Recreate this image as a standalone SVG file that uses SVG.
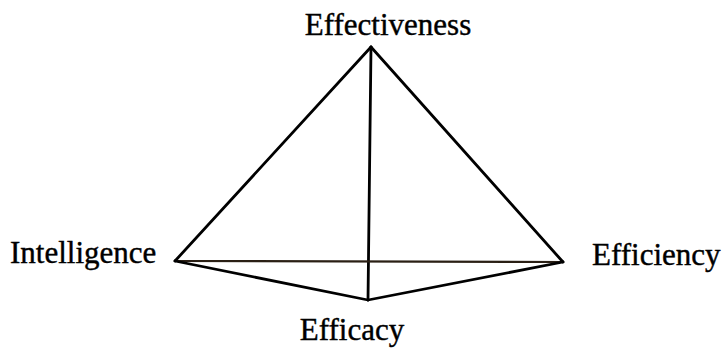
<svg xmlns="http://www.w3.org/2000/svg" width="725" height="354" viewBox="0 0 725 354">
<style>
.lbl{font-family:"Liberation Serif","Times New Roman",serif;font-size:31px;fill:#000;stroke:#000;stroke-width:0.4}
.edge{stroke:#000;stroke-width:2.8;fill:none;stroke-linecap:round;stroke-linejoin:round}
.base{stroke:#2a1f14;stroke-width:2.2}
</style>
<rect width="725" height="354" fill="#fff"/>
<g id="connectors">
<line class="edge" x1="371" y1="47" x2="175" y2="261"/>
<line class="edge" x1="371" y1="47" x2="563" y2="262"/>
<line class="edge" x1="371" y1="47" x2="368" y2="300"/>
<line class="edge base" x1="175" y1="261" x2="563" y2="262"/>
<line class="edge" x1="175" y1="261" x2="368" y2="300"/>
<line class="edge" x1="563" y1="262" x2="368" y2="300"/>
</g>
<g id="effectiveness"><text class="lbl" x="388" y="35" text-anchor="middle">Effectiveness</text></g>
<g id="intelligence"><text class="lbl" x="10" y="263">Intelligence</text></g>
<g id="efficiency"><text class="lbl" x="592" y="265">Efficiency</text></g>
<g id="efficacy"><text class="lbl" x="352" y="340" text-anchor="middle">Efficacy</text></g>
</svg>
